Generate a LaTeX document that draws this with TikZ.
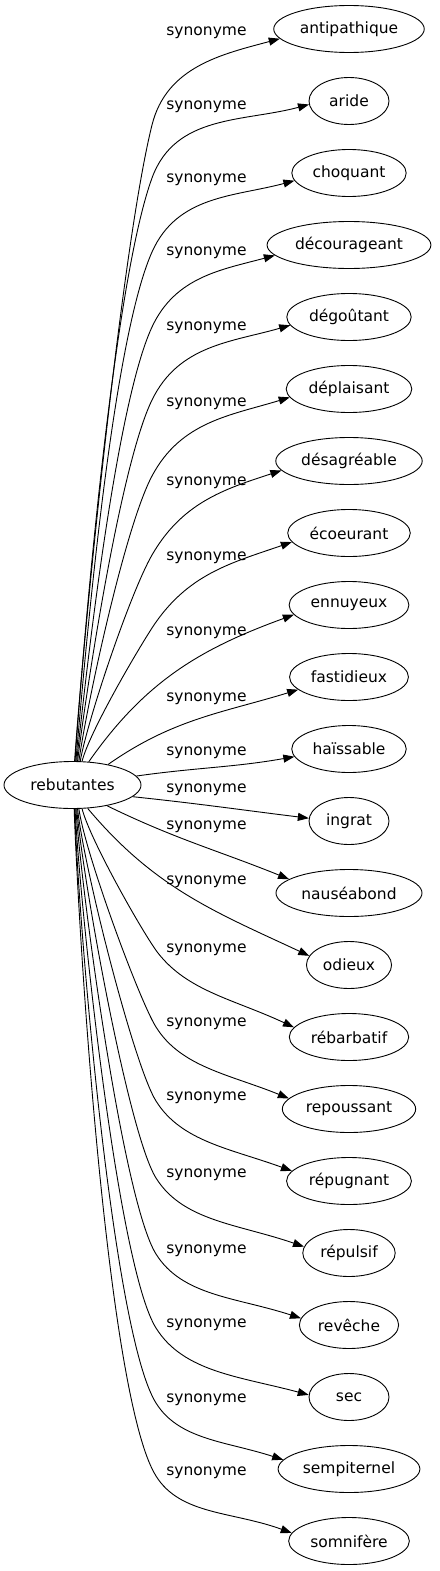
\documentclass[tikz,border=0pt]{standalone}
\usepackage{fontspec}
\setmainfont{DejaVu Sans}
\usepackage{tikz}
\usetikzlibrary{arrows.meta, shapes.geometric}
\newcommand{\synarrow}{-{Triangle[length=11pt,width=8pt]}}
\newcommand{\wordfont}{\fontsize{15.5}{18}\selectfont}
\tikzset{
    word/.style={draw, ellipse, line width=0.9pt, minimum width=80pt, minimum height=47pt,
        inner xsep=4pt, inner ysep=2pt, font=\wordfont},
    syn/.style={\synarrow, line width=0.9pt},
    synlabel/.style={inner sep=0pt, font=\wordfont}
}

\begin{document}
\begin{tikzpicture}[x=1pt, y=1pt]
        \useasboundingbox (0,0) rectangle (439,-1571);
        \node[word, minimum width=137pt] (rebutantes) at (72.5,-785) {rebutantes};

        \node[word] (antipathique) at (349,-29) {antipathique};
        \node[word] (aride) at (349,-101) {aride};
        \node[word] (choquant) at (349,-173) {choquant};
        \node[word] (decourageant) at (349,-245) {décourageant};
        \node[word] (degoutant) at (349,-317) {dégoûtant};
        \node[word] (deplaisant) at (349,-389) {déplaisant};
        \node[word] (desagreable) at (349,-461) {désagréable};
        \node[word] (ecoeurant) at (349,-533) {écoeurant};
        \node[word] (ennuyeux) at (349,-605) {ennuyeux};
        \node[word] (fastidieux) at (349,-677) {fastidieux};
        \node[word] (haissable) at (349,-749) {haïssable};
        \node[word] (ingrat) at (349,-821) {ingrat};
        \node[word] (nauseabond) at (349,-893) {nauséabond};
        \node[word] (odieux) at (349,-965) {odieux};
        \node[word] (rebarbatif) at (349,-1037) {rébarbatif};
        \node[word] (repoussant) at (349,-1109) {repoussant};
        \node[word] (repugnant) at (349,-1181) {répugnant};
        \node[word] (repulsif) at (349,-1253) {répulsif};
        \node[word] (reveche) at (349,-1325) {revêche};
        \node[word] (sec) at (349,-1397) {sec};
        \node[word] (sempiternel) at (349,-1469) {sempiternel};
        \node[word] (somnifere) at (349,-1541) {somnifère};

        \node[synlabel] (syn1) at (206.5,-33) {synonyme};
        \node[synlabel] (syn2) at (206.5,-107) {synonyme};
        \node[synlabel] (syn3) at (206.5,-180) {synonyme};
        \node[synlabel] (syn4) at (206.5,-253) {synonyme};
        \node[synlabel] (syn5) at (206.5,-328) {synonyme};
        \node[synlabel] (syn6) at (206.5,-404) {synonyme};
        \node[synlabel] (syn7) at (206.5,-483) {synonyme};
        \node[synlabel] (syn8) at (206.5,-558) {synonyme};
        \node[synlabel] (syn9) at (206.5,-633) {synonyme};
        \node[synlabel] (syn10) at (206.5,-699) {synonyme};
        \node[synlabel] (syn11) at (206.5,-753) {synonyme};
        \node[synlabel] (syn12) at (206.5,-790) {synonyme};
        \node[synlabel] (syn13) at (206.5,-827) {synonyme};
        \node[synlabel] (syn14) at (206.5,-882) {synonyme};
        \node[synlabel] (syn15) at (206.5,-950) {synonyme};
        \node[synlabel] (syn16) at (206.5,-1024) {synonyme};
        \node[synlabel] (syn17) at (206.5,-1098) {synonyme};
        \node[synlabel] (syn18) at (206.5,-1175) {synonyme};
        \node[synlabel] (syn19) at (206.5,-1251) {synonyme};
        \node[synlabel] (syn20) at (206.5,-1325) {synonyme};
        \node[synlabel] (syn21) at (206.5,-1400) {synonyme};
        \node[synlabel] (syn22) at (206.5,-1473) {synonyme};

        \draw[syn] (rebutantes.85) to[out=86, in=256, looseness=.5] (152,-125) to[out=76, in=195] (antipathique.188);
        \draw[syn] (rebutantes.84) to[out=86, in=250, looseness=.5] (152,-178) to[out=70, in=195] (aride.185);
        \draw[syn] (rebutantes.82) to[out=85, in=246, looseness=.5] (152,-252) to[out=66, in=195] (choquant.188);
        \draw[syn] (rebutantes.80) to[out=84, in=245, looseness=.5] (152,-327) to[out=65, in=195] (decourageant.188);
        \draw[syn] (rebutantes.78) to[out=83, in=244, looseness=.5] (152,-400) to[out=64, in=196] (degoutant.188);
        \draw[syn] (rebutantes.75) to[out=82, in=242, looseness=.5] (152,-476) to[out=62, in=197] (deplaisant.188);
        \draw[syn] (rebutantes.72) to[out=80, in=240, looseness=.5] (152,-555) to[out=60, in=198] (desagreable.188);
        \draw[syn] (rebutantes.68) to[out=76, in=237, looseness=.5] (152,-628) to[out=57, in=199] (ecoeurant.189);
        \draw[syn] (rebutantes.55) to[out=55, in=200] (ennuyeux.190);
        \draw[syn] (rebutantes.30) to[out=35, in=197] (fastidieux.194);
        \draw[syn] (rebutantes.8) to[out=8, in=190] (haissable.188);
        \draw[syn] (rebutantes.-11) to[out=-6, in=173] (ingrat.176);
        \draw[syn] (rebutantes.-31) to[out=-26, in=158] (nauseabond.167);
        \draw[syn] (rebutantes.-57) to[out=-50, in=155] (odieux.167);
        \draw[syn] (rebutantes.-68) to[out=-76, in=128, out looseness=.5, in looseness=.35] (158,-953) to[out=-52, in=155, out looseness=.8, in looseness=1.1] (rebarbatif.170);
        \draw[syn] (rebutantes.-75) to[out=-82, in=122, out looseness=.5, in looseness=.35] (156,-1027) to[out=-58, in=158, out looseness=.8, in looseness=1.1] (repoussant.170);
        \draw[syn] (rebutantes.-78) to[out=-84, in=122, out looseness=.5, in looseness=.35] (156,-1101) to[out=-58, in=160, out looseness=.8, in looseness=1.1] (repugnant.170);
        \draw[syn] (rebutantes.-80) to[out=-85, in=122, out looseness=.5, in looseness=.35] (156,-1178) to[out=-58, in=161, out looseness=.8, in looseness=1.1] (repulsif.172);
        \draw[syn] (rebutantes.-82) to[out=-86, in=122, out looseness=.5, in looseness=.35] (156,-1254) to[out=-58, in=162, out looseness=.8, in looseness=1.1] (reveche.172);
        \draw[syn] (rebutantes.-84) to[out=-87, in=122, out looseness=.5, in looseness=.35] (156,-1328) to[out=-58, in=165, out looseness=.8, in looseness=1.1] (sec.177);
        \draw[syn] (rebutantes.-85) to[out=-88, in=122, out looseness=.5, in looseness=.35] (156,-1403) to[out=-58, in=162, out looseness=.8, in looseness=1.1] (sempiternel.172);
        \draw[syn] (rebutantes.-86) to[out=-88, in=122, out looseness=.5, in looseness=.35] (156,-1476) to[out=-58, in=160, out looseness=.8, in looseness=1.1] (somnifere.172);
    \end{tikzpicture}
\end{document}
